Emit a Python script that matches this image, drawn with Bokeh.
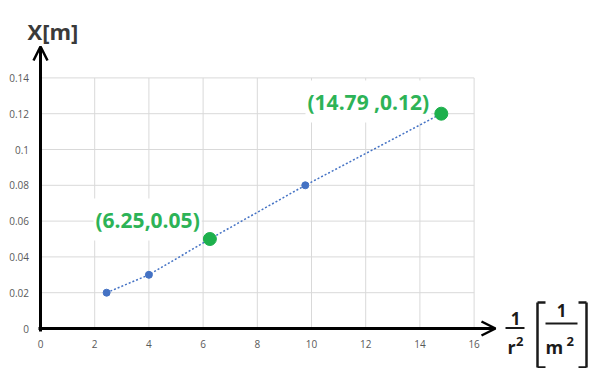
from bokeh.plotting import figure
from bokeh.models import Range1d, Label, Arrow, OpenHead
from bokeh.core.properties import value
from bokeh.embed import file_html
from bokeh.resources import INLINE

# ---- data ----
inv_r2 = [2.44, 4.0, 6.25, 9.77, 14.79]
x_m = [0.02, 0.03, 0.05, 0.08, 0.12]
highlight_x = [6.25, 14.79]
highlight_y = [0.05, 0.12]
highlight_labels = ["(6.25,0.05)", "(14.79 ,0.12)"]
x_ticks = [0, 2, 4, 6, 8, 10, 12, 14, 16]
x_tick_labels = ["0", "2", "4", "6", "8", "10", "12", "14", "16"]
y_ticks = [0, 0.02, 0.04, 0.06, 0.08, 0.10, 0.12, 0.14]
y_tick_labels = ["0", "0.02", "0.04", "0.06", "0.08", "0.1", "0.12", "0.14"]

# ---- layout (pixel <-> data mapping of the full canvas) ----
W, H = 596, 368
X0PX, Y0PX = 40, 328   # pixel position of the data origin
KX = 27.1              # px per x unit
KY = 1790.0            # px per y unit
BASE_SHIFT = 7         # correction for alphabetic baseline placement

def sx(px):
    return (px - X0PX) / KX

def sy(py):
    return (Y0PX - py) / KY

p = figure(width=W, height=H,
           x_range=Range1d(sx(0), sx(W)),
           y_range=Range1d(sy(H), sy(0)),
           x_axis_location=None, y_axis_location=None,
           min_border=0, min_border_left=0, min_border_bottom=0,
           min_border_top=0, min_border_right=0,
           toolbar_location=None, output_backend="svg",
           outline_line_color=None, background_fill_color="white",
           border_fill_color="white")
p.grid.visible = False

# gridlines limited to the plotted area
GRID = "#d9d9d9"
p.segment(x0=x_ticks[1:], y0=[0] * (len(x_ticks) - 1), x1=x_ticks[1:],
          y1=[max(y_ticks)] * (len(x_ticks) - 1), line_color=GRID, line_width=1,
          level="image")
p.segment(x0=[0] * (len(y_ticks) - 1), y0=y_ticks[1:], x1=[max(x_ticks)] * (len(y_ticks) - 1),
          y1=y_ticks[1:], line_color=GRID, line_width=1, level="image")

# tick labels
TICK_FONT = value("Open Sans")
TICK_COLOR = "#595959"
p.text(x=x_ticks, y=[sy(343)] * len(x_ticks), text=x_tick_labels,
       text_align="center", text_baseline="middle", text_font=TICK_FONT,
       text_font_size="10px", text_color=TICK_COLOR)
p.text(x=[sx(28.5)] * len(y_ticks), y=y_ticks, text=y_tick_labels,
       text_align="right", text_baseline="middle", text_font=TICK_FONT,
       text_font_size="10px", text_color=TICK_COLOR)

# point labels (white boxes under the marks)
label_pos = [(93, 219), (305, 101)]
for (px, py), txt in zip(label_pos, highlight_labels):
    p.add_layout(Label(x=sx(px), y=sy(py), text=txt, text_align="left",
                       text_baseline="middle", text_font="Open Sans",
                       text_font_style="bold", text_font_size="21px",
                       text_color="#2DB357", background_fill_color="white",
                       padding=(2, 7), level="underlay"))

# trend line + points
BLUE = "#4472C4"
GREEN = "#1DB04C"
p.line(inv_r2, x_m, line_color=BLUE, line_width=1.5, line_dash="2 2")
p.scatter(inv_r2, x_m, size=7, fill_color=BLUE, line_color=BLUE)
p.scatter(highlight_x, highlight_y, size=13, fill_color=GREEN, line_color=GREEN)

# axis arrows
p.add_layout(Arrow(end=OpenHead(size=14, line_width=2.5, line_color="black"),
                   x_start=0, y_start=sy(331), x_end=0, y_end=sy(46),
                   line_width=3, line_color="black"))
p.add_layout(Arrow(end=OpenHead(size=14, line_width=2.5, line_color="black"),
                   x_start=sx(38), y_start=0, x_end=sx(495), y_end=0,
                   line_width=3, line_color="black"))

# text helper (alphabetic baseline at pixel py)
def txt(px, py, t, size, align="left", color="#1a1a1a"):
    p.add_layout(Label(x=sx(px), y=sy(py - BASE_SHIFT), text=t, text_align=align,
                       text_baseline="alphabetic", text_font="Open Sans",
                       text_font_style="bold", text_font_size=size, text_color=color))

def seg(px0, py0, px1, py1, w=2.5):
    p.add_layout(Arrow(start=None, end=None, x_start=sx(px0), y_start=sy(py0),
                       x_end=sx(px1), y_end=sy(py1), line_width=w, line_color="#1a1a1a"))

# y axis title
txt(27, 37, "X[m]", "22px", color="#3a3a3a")

# x axis title: 1/r^2 [1/m^2]
txt(515, 325, "1", "17px", "center")
seg(505, 327.5, 524, 327.5, 2)
txt(507, 353, "r", "18px")
txt(515.5, 348, "2", "13px")

txt(561, 317, "1", "17px", "center")
seg(545, 323, 577, 323, 2)
txt(545, 353, "m", "18px")
txt(566, 348, "2", "13px")

seg(545, 302, 537, 302)
seg(537, 302, 537, 367)
seg(537, 367, 545, 367)
seg(578, 302, 586, 302)
seg(586, 302, 586, 367)
seg(586, 367, 578, 367)

open("out.html", "w").write(file_html(p, INLINE))
